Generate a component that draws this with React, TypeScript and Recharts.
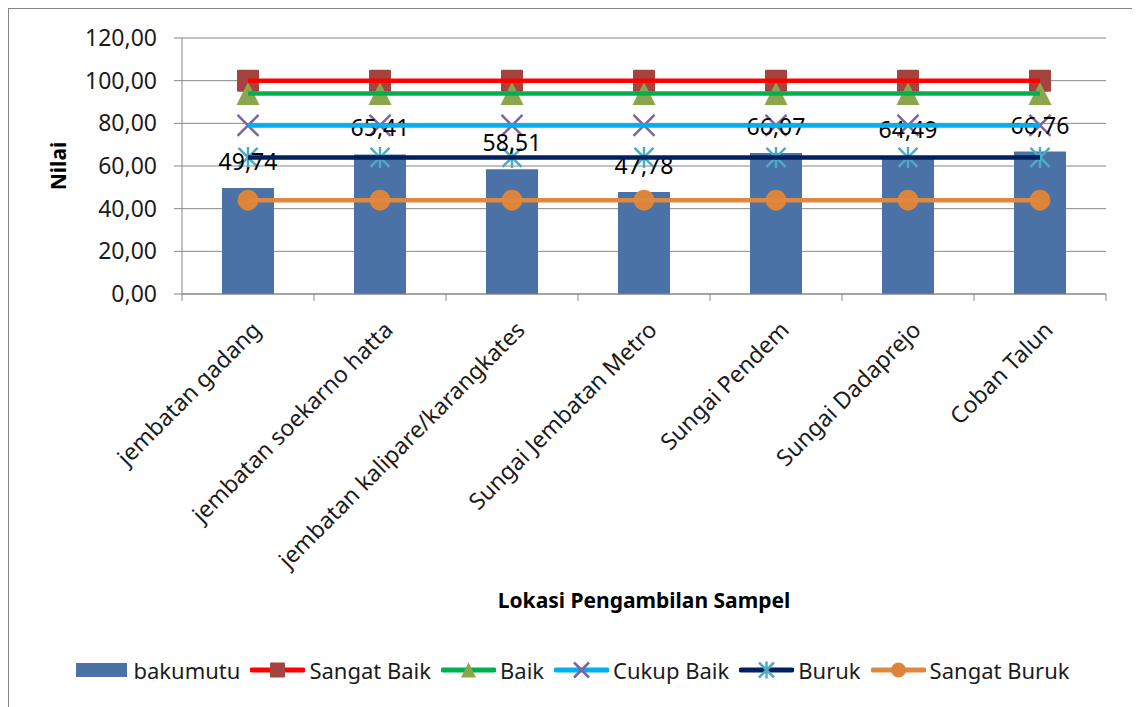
import {
  Bar,
  CartesianGrid,
  ComposedChart,
  Label,
  LabelList,
  Line,
  XAxis,
  YAxis,
} from "recharts";

const categories = [
  "jembatan gadang",
  "jembatan soekarno hatta",
  "jembatan kalipare/karangkates",
  "Sungai Jembatan Metro",
  "Sungai Pendem",
  "Sungai Dadaprejo",
  "Coban Talun",
];

const bakumutu = [49.74, 65.41, 58.51, 47.78, 66.07, 64.49, 66.76];
const sangatBaik = [100, 100, 100, 100, 100, 100, 100];
const baik = [94, 94, 94, 94, 94, 94, 94];
const cukupBaik = [79, 79, 79, 79, 79, 79, 79];
const buruk = [64, 64, 64, 64, 64, 64, 64];
const sangatBuruk = [44, 44, 44, 44, 44, 44, 44];

const yTicks = [0, 20, 40, 60, 80, 100, 120];

const data = categories.map((name, i) => ({
  name,
  bakumutu: bakumutu[i],
  sangatBaik: sangatBaik[i],
  baik: baik[i],
  cukupBaik: cukupBaik[i],
  buruk: buruk[i],
  sangatBuruk: sangatBuruk[i],
}));

const CHART_W = 1123;
const CHART_H = 698;
const MARGIN = { top: 29, right: 26, left: 0, bottom: 0 };
const Y_AXIS_W = 173;
const PLOT_W = CHART_W - MARGIN.right - Y_AXIS_W;
const FONT = "'Noto Sans', 'Open Sans', sans-serif";
const TEXT = "#1c1c1c";
const AXIS = "#868686";

const fmt = (v: number) => v.toFixed(2).replace(".", ",");

type DotProps = { cx?: number; cy?: number; index?: number; size?: number };

function SquareDot({ cx = 0, cy = 0, size = 22 }: DotProps) {
  const h = size / 2;
  return <rect x={cx - h} y={cy - h} width={size} height={size} rx={1} fill="#A5433F" />;
}

function TriangleDot({ cx = 0, cy = 0, size = 23 }: DotProps) {
  const h = size / 2;
  return (
    <polygon
      points={`${cx},${cy - h} ${cx + h},${cy + h} ${cx - h},${cy + h}`}
      fill="#8AA54B"
    />
  );
}

function CrossDot({ cx = 0, cy = 0, size = 21 }: DotProps) {
  const h = size / 2;
  return (
    <g stroke="#7E62A0" strokeWidth={2.5}>
      <line x1={cx - h} y1={cy - h} x2={cx + h} y2={cy + h} />
      <line x1={cx - h} y1={cy + h} x2={cx + h} y2={cy - h} />
    </g>
  );
}

function StarDot({ cx = 0, cy = 0, size = 19 }: DotProps) {
  const h = size / 2;
  return (
    <g stroke="#4BACC6" strokeWidth={2.5}>
      <line x1={cx - h} y1={cy - h} x2={cx + h} y2={cy + h} />
      <line x1={cx - h} y1={cy + h} x2={cx + h} y2={cy - h} />
      <line x1={cx} y1={cy - h - 1} x2={cx} y2={cy + h + 1} />
    </g>
  );
}

function CircleDot({ cx = 0, cy = 0, size = 21 }: DotProps) {
  return <circle cx={cx} cy={cy} r={size / 2} fill="#DD843B" />;
}

const series = [
  { key: "sangatBaik", name: "Sangat Baik", stroke: "#FF0000", Dot: SquareDot },
  { key: "baik", name: "Baik", stroke: "#00B050", Dot: TriangleDot },
  { key: "cukupBaik", name: "Cukup Baik", stroke: "#00B0F0", Dot: CrossDot },
  { key: "buruk", name: "Buruk", stroke: "#002060", Dot: StarDot },
  { key: "sangatBuruk", name: "Sangat Buruk", stroke: "#E0893E", Dot: CircleDot },
];

type TickProps = { x?: number; y?: number; index?: number; payload?: { value: string } };

function CategoryTick({ x = 0, y = 0, index = 0, payload }: TickProps) {
  const band = PLOT_W / categories.length;
  const left = x - band / 2;
  const tx = x + 8;
  const ty = y + 31;
  return (
    <g>
      <line x1={left} y1={y} x2={left} y2={y + 7} stroke={AXIS} />
      {index === categories.length - 1 && (
        <line x1={x + band / 2} y1={y} x2={x + band / 2} y2={y + 7} stroke={AXIS} />
      )}
      <text
        x={tx}
        y={ty}
        transform={`rotate(-45 ${tx} ${ty})`}
        textAnchor="end"
        dominantBaseline="central"
        fontSize={23}
        fill={TEXT}
        fontFamily={FONT}
      >
        {payload?.value}
      </text>
    </g>
  );
}

function YTitle({ viewBox }: { viewBox?: { x: number; y: number; height: number } }) {
  const vb = viewBox ?? { x: 0, y: 0, height: 0 };
  const cx = vb.x + 49;
  const cy = vb.y + vb.height / 2;
  return (
    <text
      x={cx}
      y={cy}
      transform={`rotate(-90 ${cx} ${cy})`}
      textAnchor="middle"
      dominantBaseline="central"
      fontSize={21}
      fontWeight="bold"
      fill="#000"
      fontFamily={FONT}
    >
      Nilai
    </text>
  );
}

function LegendIcon({ stroke, Dot }: { stroke: string; Dot: (p: DotProps) => JSX.Element }) {
  return (
    <svg width={55} height={22}>
      <line x1={2} y1={11} x2={53} y2={11} stroke={stroke} strokeWidth={5} strokeLinecap="round" />
      <Dot cx={27.5} cy={11} size={15} />
    </svg>
  );
}

function ChartLegend() {
  return (
    <div
      style={{
        position: "absolute",
        top: 648,
        left: 5,
        right: 0,
        height: 26,
        display: "flex",
        alignItems: "center",
        justifyContent: "center",
        fontSize: 22,
        color: TEXT,
        fontFamily: FONT,
        whiteSpace: "nowrap",
      }}
    >
      <div style={{ display: "flex", alignItems: "center", marginRight: 10 }}>
        <div style={{ width: 51, height: 14, background: "#4A72A6", marginRight: 6 }} />
        <span>bakumutu</span>
      </div>
      {series.map((s, i) => (
        <div
          key={s.key}
          style={{ display: "flex", alignItems: "center", marginRight: i < series.length - 1 ? 10 : 0 }}
        >
          <LegendIcon stroke={s.stroke} Dot={s.Dot} />
          <span style={{ marginLeft: 4 }}>{s.name}</span>
        </div>
      ))}
    </div>
  );
}

export default function App() {
  return (
    <div
      style={{
        position: "relative",
        width: CHART_W,
        height: CHART_H,
        border: `1px solid ${AXIS}`,
        background: "#fff",
        fontFamily: FONT,
      }}
    >
      <ComposedChart width={CHART_W} height={CHART_H} data={data} margin={MARGIN}>
        <CartesianGrid horizontal vertical={false} stroke={AXIS} strokeWidth={1} />
        <XAxis
          dataKey="name"
          interval={0}
          height={CHART_H - MARGIN.top - 256}
          tickLine={false}
          tickSize={0}
          tickMargin={0}
          axisLine={{ stroke: AXIS }}
          tick={<CategoryTick />}
        >
          <Label
            value="Lokasi Pengambilan Sampel"
            position="insideBottom"
            offset={99}
            style={{ fontSize: 21, fontWeight: "bold", fill: "#000", fontFamily: FONT }}
          />
        </XAxis>
        <YAxis
          width={Y_AXIS_W}
          domain={[0, 120]}
          ticks={yTicks}
          interval={0}
          tickFormatter={fmt}
          tickSize={8}
          tickMargin={17}
          axisLine={{ stroke: AXIS }}
          tickLine={{ stroke: AXIS }}
          tick={{ fontSize: 23, fill: TEXT, fontFamily: FONT }}
        >
          <Label content={<YTitle />} />
        </YAxis>
        <Bar dataKey="bakumutu" name="bakumutu" fill="#4A72A6" barSize={52} isAnimationActive={false}>
          <LabelList
            dataKey="bakumutu"
            position="top"
            offset={18}
            formatter={(v: number) => fmt(v)}
            style={{ fontSize: 23, fill: "#000", fontFamily: FONT }}
          />
        </Bar>
        {series.map((s) => (
          <Line
            key={s.key}
            type="linear"
            dataKey={s.key}
            name={s.name}
            stroke={s.stroke}
            strokeWidth={4.5}
            dot={(p: DotProps) => <s.Dot key={`${s.key}-${p.index}`} cx={p.cx} cy={p.cy} />}
            activeDot={false}
            isAnimationActive={false}
            zIndex={2500}
          />
        ))}
      </ComposedChart>
      <ChartLegend />
    </div>
  );
}
